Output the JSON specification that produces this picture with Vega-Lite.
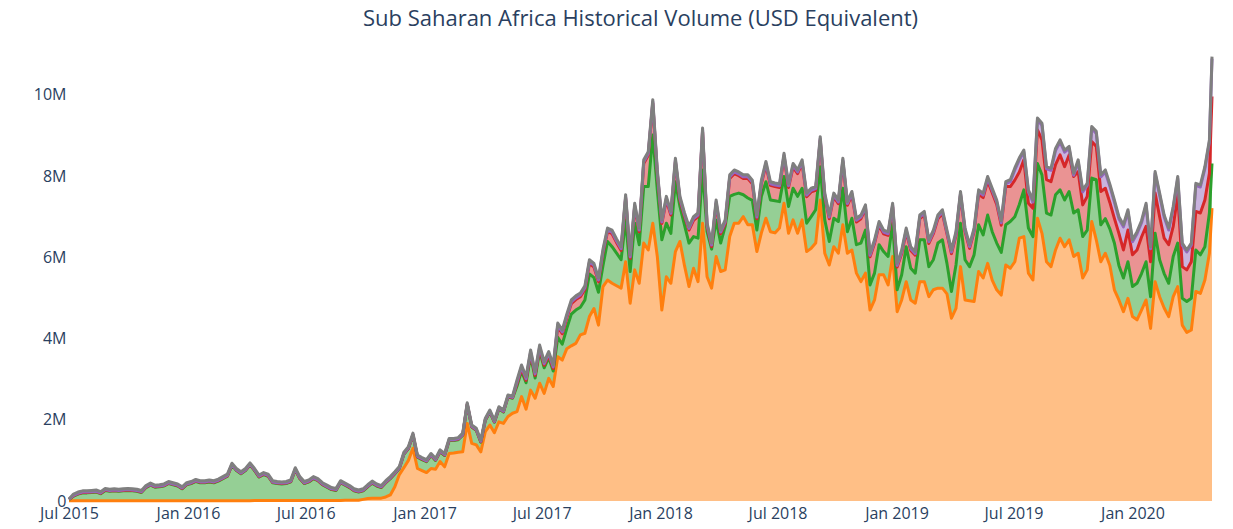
{
  "$schema": "https://vega.github.io/schema/vega-lite/v6.json",
  "width": 1143,
  "height": 446,
  "autosize": {"type": "none"},
  "padding": {"left": 69, "top": 55, "right": 21, "bottom": 28},
  "background": "white",
  "config": {"view": {"stroke": null}},
  "title": {"text": "Sub Saharan Africa Historical Volume (USD Equivalent)", "font": "Open Sans", "fontSize": 22, "fontWeight": "normal", "color": "#2a3f5f", "anchor": "middle", "offset": 24},
  "data": {"values": [
{"date":"2015-07-01","s1":0.005,"s2":0.03,"s3":0.005,"s4":0.005,"s5":0.005},
{"date":"2015-07-08","s1":0.005,"s2":0.115,"s3":0.01,"s4":0.01,"s5":0.03},
{"date":"2015-07-15","s1":0.005,"s2":0.165,"s3":0.01,"s4":0.01,"s5":0.03},
{"date":"2015-07-22","s1":0.005,"s2":0.195,"s3":0.01,"s4":0.01,"s5":0.03},
{"date":"2015-07-29","s1":0.005,"s2":0.195,"s3":0.01,"s4":0.01,"s5":0.03},
{"date":"2015-08-05","s1":0.005,"s2":0.205,"s3":0.01,"s4":0.01,"s5":0.03},
{"date":"2015-08-12","s1":0.005,"s2":0.215,"s3":0.01,"s4":0.01,"s5":0.03},
{"date":"2015-08-19","s1":0.005,"s2":0.175,"s3":0.01,"s4":0.01,"s5":0.03},
{"date":"2015-08-26","s1":0.005,"s2":0.255,"s3":0.01,"s4":0.01,"s5":0.03},
{"date":"2015-09-02","s1":0.005,"s2":0.235,"s3":0.01,"s4":0.01,"s5":0.03},
{"date":"2015-09-09","s1":0.005,"s2":0.245,"s3":0.01,"s4":0.01,"s5":0.03},
{"date":"2015-09-16","s1":0.005,"s2":0.235,"s3":0.01,"s4":0.01,"s5":0.03},
{"date":"2015-09-23","s1":0.005,"s2":0.245,"s3":0.01,"s4":0.01,"s5":0.03},
{"date":"2015-09-30","s1":0.005,"s2":0.255,"s3":0.01,"s4":0.01,"s5":0.03},
{"date":"2015-10-07","s1":0.005,"s2":0.245,"s3":0.01,"s4":0.01,"s5":0.03},
{"date":"2015-10-14","s1":0.005,"s2":0.235,"s3":0.01,"s4":0.01,"s5":0.03},
{"date":"2015-10-21","s1":0.005,"s2":0.205,"s3":0.01,"s4":0.01,"s5":0.03},
{"date":"2015-10-28","s1":0.005,"s2":0.325,"s3":0.01,"s4":0.01,"s5":0.03},
{"date":"2015-11-04","s1":0.005,"s2":0.385,"s3":0.01,"s4":0.01,"s5":0.03},
{"date":"2015-11-11","s1":0.005,"s2":0.335,"s3":0.01,"s4":0.01,"s5":0.03},
{"date":"2015-11-18","s1":0.005,"s2":0.345,"s3":0.01,"s4":0.01,"s5":0.03},
{"date":"2015-11-25","s1":0.005,"s2":0.365,"s3":0.01,"s4":0.01,"s5":0.03},
{"date":"2015-12-02","s1":0.005,"s2":0.425,"s3":0.01,"s4":0.01,"s5":0.03},
{"date":"2015-12-09","s1":0.005,"s2":0.395,"s3":0.01,"s4":0.01,"s5":0.03},
{"date":"2015-12-16","s1":0.005,"s2":0.365,"s3":0.01,"s4":0.01,"s5":0.03},
{"date":"2015-12-23","s1":0.005,"s2":0.295,"s3":0.01,"s4":0.01,"s5":0.03},
{"date":"2015-12-30","s1":0.005,"s2":0.395,"s3":0.01,"s4":0.01,"s5":0.03},
{"date":"2016-01-06","s1":0.005,"s2":0.425,"s3":0.01,"s4":0.01,"s5":0.03},
{"date":"2016-01-13","s1":0.005,"s2":0.475,"s3":0.01,"s4":0.01,"s5":0.03},
{"date":"2016-01-20","s1":0.005,"s2":0.445,"s3":0.01,"s4":0.01,"s5":0.03},
{"date":"2016-01-27","s1":0.005,"s2":0.445,"s3":0.01,"s4":0.01,"s5":0.03},
{"date":"2016-02-03","s1":0.005,"s2":0.465,"s3":0.01,"s4":0.01,"s5":0.03},
{"date":"2016-02-10","s1":0.005,"s2":0.445,"s3":0.01,"s4":0.01,"s5":0.03},
{"date":"2016-02-17","s1":0.005,"s2":0.485,"s3":0.01,"s4":0.01,"s5":0.03},
{"date":"2016-02-24","s1":0.005,"s2":0.545,"s3":0.01,"s4":0.01,"s5":0.03},
{"date":"2016-03-02","s1":0.005,"s2":0.605,"s3":0.01,"s4":0.01,"s5":0.03},
{"date":"2016-03-09","s1":0.005,"s2":0.875,"s3":0.01,"s4":0.01,"s5":0.03},
{"date":"2016-03-16","s1":0.005,"s2":0.745,"s3":0.01,"s4":0.01,"s5":0.03},
{"date":"2016-03-23","s1":0.005,"s2":0.665,"s3":0.01,"s4":0.01,"s5":0.03},
{"date":"2016-03-30","s1":0.005,"s2":0.745,"s3":0.01,"s4":0.01,"s5":0.03},
{"date":"2016-04-06","s1":0.005,"s2":0.885,"s3":0.01,"s4":0.01,"s5":0.03},
{"date":"2016-04-13","s1":0.01,"s2":0.74,"s3":0.01,"s4":0.01,"s5":0.03},
{"date":"2016-04-20","s1":0.01,"s2":0.58,"s3":0.01,"s4":0.01,"s5":0.03},
{"date":"2016-04-27","s1":0.01,"s2":0.64,"s3":0.01,"s4":0.01,"s5":0.03},
{"date":"2016-05-04","s1":0.01,"s2":0.60,"s3":0.01,"s4":0.01,"s5":0.03},
{"date":"2016-05-11","s1":0.01,"s2":0.44,"s3":0.01,"s4":0.01,"s5":0.03},
{"date":"2016-05-18","s1":0.01,"s2":0.42,"s3":0.01,"s4":0.01,"s5":0.03},
{"date":"2016-05-25","s1":0.01,"s2":0.41,"s3":0.01,"s4":0.01,"s5":0.03},
{"date":"2016-06-01","s1":0.01,"s2":0.42,"s3":0.01,"s4":0.01,"s5":0.03},
{"date":"2016-06-08","s1":0.01,"s2":0.46,"s3":0.01,"s4":0.01,"s5":0.03},
{"date":"2016-06-15","s1":0.01,"s2":0.76,"s3":0.01,"s4":0.01,"s5":0.03},
{"date":"2016-06-22","s1":0.01,"s2":0.54,"s3":0.01,"s4":0.01,"s5":0.03},
{"date":"2016-06-29","s1":0.01,"s2":0.42,"s3":0.01,"s4":0.01,"s5":0.03},
{"date":"2016-07-06","s1":0.01,"s2":0.46,"s3":0.01,"s4":0.01,"s5":0.03},
{"date":"2016-07-13","s1":0.01,"s2":0.54,"s3":0.01,"s4":0.01,"s5":0.03},
{"date":"2016-07-20","s1":0.01,"s2":0.49,"s3":0.01,"s4":0.01,"s5":0.03},
{"date":"2016-07-27","s1":0.01,"s2":0.39,"s3":0.01,"s4":0.01,"s5":0.03},
{"date":"2016-08-03","s1":0.01,"s2":0.33,"s3":0.01,"s4":0.01,"s5":0.03},
{"date":"2016-08-10","s1":0.01,"s2":0.27,"s3":0.01,"s4":0.01,"s5":0.03},
{"date":"2016-08-17","s1":0.01,"s2":0.25,"s3":0.01,"s4":0.01,"s5":0.03},
{"date":"2016-08-24","s1":0.01,"s2":0.44,"s3":0.01,"s4":0.01,"s5":0.03},
{"date":"2016-08-31","s1":0.02,"s2":0.37,"s3":0.01,"s4":0.01,"s5":0.03},
{"date":"2016-09-07","s1":0.02,"s2":0.31,"s3":0.01,"s4":0.01,"s5":0.03},
{"date":"2016-09-14","s1":0.02,"s2":0.23,"s3":0.01,"s4":0.01,"s5":0.03},
{"date":"2016-09-21","s1":0.02,"s2":0.20,"s3":0.01,"s4":0.01,"s5":0.03},
{"date":"2016-09-28","s1":0.04,"s2":0.21,"s3":0.01,"s4":0.01,"s5":0.03},
{"date":"2016-10-05","s1":0.06,"s2":0.29,"s3":0.01,"s4":0.01,"s5":0.03},
{"date":"2016-10-12","s1":0.07,"s2":0.37,"s3":0.01,"s4":0.01,"s5":0.03},
{"date":"2016-10-19","s1":0.07,"s2":0.30,"s3":0.01,"s4":0.01,"s5":0.03},
{"date":"2016-10-26","s1":0.07,"s2":0.26,"s3":0.01,"s4":0.01,"s5":0.03},
{"date":"2016-11-02","s1":0.10,"s2":0.35,"s3":0.01,"s4":0.01,"s5":0.03},
{"date":"2016-11-09","s1":0.15,"s2":0.40,"s3":0.01,"s4":0.01,"s5":0.03},
{"date":"2016-11-16","s1":0.35,"s2":0.32,"s3":0.01,"s4":0.01,"s5":0.03},
{"date":"2016-11-23","s1":0.65,"s2":0.15,"s3":0.01,"s4":0.01,"s5":0.03},
{"date":"2016-11-30","s1":0.82,"s2":0.33,"s3":0.01,"s4":0.01,"s5":0.03},
{"date":"2016-12-07","s1":1.00,"s2":0.29,"s3":0.01,"s4":0.01,"s5":0.03},
{"date":"2016-12-14","s1":1.30,"s2":0.32,"s3":0.01,"s4":0.01,"s5":0.03},
{"date":"2016-12-21","s1":0.80,"s2":0.28,"s3":0.01,"s4":0.01,"s5":0.03},
{"date":"2016-12-28","s1":0.75,"s2":0.27,"s3":0.01,"s4":0.01,"s5":0.03},
{"date":"2017-01-04","s1":0.70,"s2":0.27,"s3":0.01,"s4":0.01,"s5":0.03},
{"date":"2017-01-11","s1":0.80,"s2":0.32,"s3":0.01,"s4":0.01,"s5":0.03},
{"date":"2017-01-18","s1":0.78,"s2":0.22,"s3":0.01,"s4":0.01,"s5":0.03},
{"date":"2017-01-25","s1":0.97,"s2":0.24,"s3":0.01,"s4":0.01,"s5":0.03},
{"date":"2017-02-01","s1":0.84,"s2":0.28,"s3":0.01,"s4":0.01,"s5":0.03},
{"date":"2017-02-08","s1":1.17,"s2":0.32,"s3":0.01,"s4":0.01,"s5":0.03},
{"date":"2017-02-15","s1":1.18,"s2":0.31,"s3":0.01,"s4":0.01,"s5":0.03},
{"date":"2017-02-22","s1":1.20,"s2":0.31,"s3":0.01,"s4":0.01,"s5":0.03},
{"date":"2017-03-01","s1":1.21,"s2":0.41,"s3":0.01,"s4":0.01,"s5":0.03},
{"date":"2017-03-08","s1":1.91,"s2":0.46,"s3":0.01,"s4":0.01,"s5":0.03},
{"date":"2017-03-15","s1":1.42,"s2":0.40,"s3":0.01,"s4":0.01,"s5":0.03},
{"date":"2017-03-22","s1":1.38,"s2":0.36,"s3":0.01,"s4":0.01,"s5":0.03},
{"date":"2017-03-29","s1":1.21,"s2":0.24,"s3":0.01,"s4":0.01,"s5":0.03},
{"date":"2017-04-05","s1":1.71,"s2":0.28,"s3":0.01,"s4":0.01,"s5":0.03},
{"date":"2017-04-12","s1":1.87,"s2":0.32,"s3":0.01,"s4":0.01,"s5":0.03},
{"date":"2017-04-19","s1":1.68,"s2":0.26,"s3":0.01,"s4":0.01,"s5":0.03},
{"date":"2017-04-26","s1":1.95,"s2":0.32,"s3":0.01,"s4":0.01,"s5":0.03},
{"date":"2017-05-03","s1":1.91,"s2":0.28,"s3":0.01,"s4":0.01,"s5":0.03},
{"date":"2017-05-10","s1":2.08,"s2":0.48,"s3":0.01,"s4":0.01,"s5":0.03},
{"date":"2017-05-17","s1":2.16,"s2":0.37,"s3":0.01,"s4":0.01,"s5":0.03},
{"date":"2017-05-24","s1":2.20,"s2":0.63,"s3":0.06,"s4":0.04,"s5":0.05},
{"date":"2017-05-31","s1":2.57,"s2":0.63,"s3":0.06,"s4":0.04,"s5":0.05},
{"date":"2017-06-07","s1":2.26,"s2":0.65,"s3":0.06,"s4":0.04,"s5":0.05},
{"date":"2017-06-14","s1":2.73,"s2":0.84,"s3":0.06,"s4":0.04,"s5":0.05},
{"date":"2017-06-21","s1":2.53,"s2":0.50,"s3":0.06,"s4":0.04,"s5":0.05},
{"date":"2017-06-28","s1":2.90,"s2":0.79,"s3":0.06,"s4":0.04,"s5":0.05},
{"date":"2017-07-05","s1":2.65,"s2":0.63,"s3":0.06,"s4":0.04,"s5":0.05},
{"date":"2017-07-12","s1":3.02,"s2":0.51,"s3":0.06,"s4":0.04,"s5":0.05},
{"date":"2017-07-19","s1":2.82,"s2":0.38,"s3":0.06,"s4":0.04,"s5":0.05},
{"date":"2017-07-26","s1":3.55,"s2":0.48,"s3":0.26,"s4":0.04,"s5":0.05},
{"date":"2017-08-02","s1":3.47,"s2":0.39,"s3":0.26,"s4":0.04,"s5":0.05},
{"date":"2017-08-09","s1":3.75,"s2":0.50,"s3":0.26,"s4":0.04,"s5":0.05},
{"date":"2017-08-16","s1":3.82,"s2":0.78,"s3":0.26,"s4":0.04,"s5":0.05},
{"date":"2017-08-23","s1":3.88,"s2":0.82,"s3":0.26,"s4":0.04,"s5":0.05},
{"date":"2017-08-30","s1":4.09,"s2":0.68,"s3":0.26,"s4":0.04,"s5":0.05},
{"date":"2017-09-06","s1":4.13,"s2":0.82,"s3":0.26,"s4":0.04,"s5":0.05},
{"date":"2017-09-13","s1":4.54,"s2":1.05,"s3":0.26,"s4":0.04,"s5":0.05},
{"date":"2017-09-20","s1":4.74,"s2":0.76,"s3":0.26,"s4":0.04,"s5":0.05},
{"date":"2017-09-27","s1":4.33,"s2":0.81,"s3":0.26,"s4":0.04,"s5":0.05},
{"date":"2017-10-04","s1":5.28,"s2":0.52,"s3":0.31,"s4":0.04,"s5":0.05},
{"date":"2017-10-11","s1":5.44,"s2":0.95,"s3":0.24,"s4":0.04,"s5":0.05},
{"date":"2017-10-18","s1":5.36,"s2":0.90,"s3":0.32,"s4":0.04,"s5":0.05},
{"date":"2017-10-25","s1":5.30,"s2":0.80,"s3":0.26,"s4":0.04,"s5":0.05},
{"date":"2017-11-01","s1":5.24,"s2":0.70,"s3":0.23,"s4":0.04,"s5":0.05},
{"date":"2017-11-08","s1":5.89,"s2":1.03,"s3":0.53,"s4":0.04,"s5":0.05},
{"date":"2017-11-15","s1":4.87,"s2":0.78,"s3":0.32,"s4":0.04,"s5":0.05},
{"date":"2017-11-22","s1":5.69,"s2":1.15,"s3":0.40,"s4":0.04,"s5":0.05},
{"date":"2017-11-29","s1":5.36,"s2":0.95,"s3":0.32,"s4":0.04,"s5":0.05},
{"date":"2017-12-06","s1":6.35,"s2":1.39,"s3":0.57,"s4":0.04,"s5":0.05},
{"date":"2017-12-13","s1":6.18,"s2":1.56,"s3":0.77,"s4":0.04,"s5":0.05},
{"date":"2017-12-20","s1":6.84,"s2":2.17,"s3":0.78,"s4":0.04,"s5":0.05},
{"date":"2017-12-27","s1":6.02,"s2":1.64,"s3":0.40,"s4":0.04,"s5":0.05},
{"date":"2018-01-03","s1":4.70,"s2":1.73,"s3":0.40,"s4":0.04,"s5":0.05},
{"date":"2018-01-10","s1":5.52,"s2":1.32,"s3":0.57,"s4":0.04,"s5":0.05},
{"date":"2018-01-17","s1":5.36,"s2":1.23,"s3":0.45,"s4":0.04,"s5":0.05},
{"date":"2018-01-24","s1":6.14,"s2":1.72,"s3":0.49,"s4":0.04,"s5":0.05},
{"date":"2018-01-31","s1":6.39,"s2":0.86,"s3":0.16,"s4":0.04,"s5":0.05},
{"date":"2018-02-07","s1":5.80,"s2":1.00,"s3":0.21,"s4":0.04,"s5":0.05},
{"date":"2018-02-14","s1":5.28,"s2":1.07,"s3":0.32,"s4":0.04,"s5":0.05},
{"date":"2018-02-21","s1":5.73,"s2":0.78,"s3":0.40,"s4":0.04,"s5":0.05},
{"date":"2018-02-28","s1":5.40,"s2":1.07,"s3":0.53,"s4":0.04,"s5":0.05},
{"date":"2018-03-07","s1":6.84,"s2":1.31,"s3":0.94,"s4":0.04,"s5":0.05},
{"date":"2018-03-14","s1":5.52,"s2":1.11,"s3":0.12,"s4":0.04,"s5":0.05},
{"date":"2018-03-21","s1":5.24,"s2":0.96,"s3":0.06,"s4":0.04,"s5":0.05},
{"date":"2018-03-28","s1":6.02,"s2":0.90,"s3":0.40,"s4":0.04,"s5":0.05},
{"date":"2018-04-04","s1":5.65,"s2":0.70,"s3":0.23,"s4":0.04,"s5":0.05},
{"date":"2018-04-11","s1":5.69,"s2":1.07,"s3":0.07,"s4":0.04,"s5":0.05},
{"date":"2018-04-18","s1":6.51,"s2":0.99,"s3":0.44,"s4":0.04,"s5":0.05},
{"date":"2018-04-25","s1":6.84,"s2":0.71,"s3":0.51,"s4":0.04,"s5":0.05},
{"date":"2018-05-02","s1":6.84,"s2":0.74,"s3":0.43,"s4":0.04,"s5":0.05},
{"date":"2018-05-09","s1":7.00,"s2":0.54,"s3":0.40,"s4":0.04,"s5":0.05},
{"date":"2018-05-16","s1":6.80,"s2":0.66,"s3":0.48,"s4":0.04,"s5":0.05},
{"date":"2018-05-23","s1":6.80,"s2":0.60,"s3":0.41,"s4":0.04,"s5":0.05},
{"date":"2018-05-30","s1":6.14,"s2":0.53,"s3":0.28,"s4":0.04,"s5":0.05},
{"date":"2018-06-06","s1":6.60,"s2":0.90,"s3":0.31,"s4":0.04,"s5":0.05},
{"date":"2018-06-13","s1":6.96,"s2":0.90,"s3":0.41,"s4":0.04,"s5":0.05},
{"date":"2018-06-20","s1":6.63,"s2":0.78,"s3":0.36,"s4":0.04,"s5":0.05},
{"date":"2018-06-27","s1":6.60,"s2":0.79,"s3":0.35,"s4":0.04,"s5":0.05},
{"date":"2018-07-04","s1":6.72,"s2":0.65,"s3":0.35,"s4":0.04,"s5":0.05},
{"date":"2018-07-11","s1":7.33,"s2":0.66,"s3":0.48,"s4":0.04,"s5":0.05},
{"date":"2018-07-18","s1":6.59,"s2":0.66,"s3":0.47,"s4":0.04,"s5":0.05},
{"date":"2018-07-25","s1":6.92,"s2":0.78,"s3":0.52,"s4":0.04,"s5":0.05},
{"date":"2018-08-01","s1":6.59,"s2":0.91,"s3":0.56,"s4":0.04,"s5":0.05},
{"date":"2018-08-08","s1":6.92,"s2":0.78,"s3":0.61,"s4":0.04,"s5":0.05},
{"date":"2018-08-15","s1":6.14,"s2":0.70,"s3":0.65,"s4":0.04,"s5":0.05},
{"date":"2018-08-22","s1":6.22,"s2":0.78,"s3":0.61,"s4":0.04,"s5":0.05},
{"date":"2018-08-29","s1":6.35,"s2":0.82,"s3":0.48,"s4":0.04,"s5":0.05},
{"date":"2018-09-05","s1":7.41,"s2":0.82,"s3":0.65,"s4":0.04,"s5":0.05},
{"date":"2018-09-12","s1":6.10,"s2":0.82,"s3":0.57,"s4":0.04,"s5":0.05},
{"date":"2018-09-19","s1":5.81,"s2":0.58,"s3":0.56,"s4":0.04,"s5":0.05},
{"date":"2018-09-26","s1":6.26,"s2":0.70,"s3":0.53,"s4":0.04,"s5":0.05},
{"date":"2018-10-03","s1":6.10,"s2":0.78,"s3":0.44,"s4":0.04,"s5":0.05},
{"date":"2018-10-10","s1":6.80,"s2":0.90,"s3":0.65,"s4":0.04,"s5":0.05},
{"date":"2018-10-17","s1":6.10,"s2":0.53,"s3":0.65,"s4":0.04,"s5":0.05},
{"date":"2018-10-24","s1":6.18,"s2":0.78,"s3":0.57,"s4":0.04,"s5":0.05},
{"date":"2018-10-31","s1":5.61,"s2":0.70,"s3":0.56,"s4":0.04,"s5":0.05},
{"date":"2018-11-07","s1":5.40,"s2":0.95,"s3":0.60,"s4":0.04,"s5":0.05},
{"date":"2018-11-14","s1":5.61,"s2":1.06,"s3":0.53,"s4":0.04,"s5":0.05},
{"date":"2018-11-21","s1":4.70,"s2":0.62,"s3":0.69,"s4":0.04,"s5":0.05},
{"date":"2018-11-28","s1":4.95,"s2":0.66,"s3":0.73,"s4":0.04,"s5":0.05},
{"date":"2018-12-05","s1":5.57,"s2":0.74,"s3":0.48,"s4":0.04,"s5":0.05},
{"date":"2018-12-12","s1":5.57,"s2":0.57,"s3":0.44,"s4":0.04,"s5":0.05},
{"date":"2018-12-19","s1":5.32,"s2":0.70,"s3":0.52,"s4":0.04,"s5":0.05},
{"date":"2018-12-26","s1":6.02,"s2":0.82,"s3":0.40,"s4":0.04,"s5":0.05},
{"date":"2019-01-02","s1":4.66,"s2":0.54,"s3":0.56,"s4":0.04,"s5":0.05},
{"date":"2019-01-09","s1":4.95,"s2":0.62,"s3":0.52,"s4":0.04,"s5":0.05},
{"date":"2019-01-16","s1":5.40,"s2":0.86,"s3":0.37,"s4":0.04,"s5":0.05},
{"date":"2019-01-23","s1":4.95,"s2":0.78,"s3":0.44,"s4":0.04,"s5":0.05},
{"date":"2019-01-30","s1":4.87,"s2":0.74,"s3":0.44,"s4":0.04,"s5":0.05},
{"date":"2019-02-06","s1":5.40,"s2":1.03,"s3":0.52,"s4":0.04,"s5":0.05},
{"date":"2019-02-13","s1":5.40,"s2":1.03,"s3":0.61,"s4":0.04,"s5":0.05},
{"date":"2019-02-20","s1":5.03,"s2":0.74,"s3":0.57,"s4":0.04,"s5":0.05},
{"date":"2019-02-27","s1":5.20,"s2":0.74,"s3":0.64,"s4":0.04,"s5":0.05},
{"date":"2019-03-06","s1":5.24,"s2":1.11,"s3":0.60,"s4":0.04,"s5":0.05},
{"date":"2019-03-13","s1":5.24,"s2":1.19,"s3":0.65,"s4":0.04,"s5":0.05},
{"date":"2019-03-20","s1":5.10,"s2":0.75,"s3":0.73,"s4":0.04,"s5":0.05},
{"date":"2019-03-27","s1":4.50,"s2":0.66,"s3":0.93,"s4":0.04,"s5":0.05},
{"date":"2019-04-03","s1":4.74,"s2":1.07,"s3":0.73,"s4":0.04,"s5":0.05},
{"date":"2019-04-10","s1":5.77,"s2":1.07,"s3":0.69,"s4":0.04,"s5":0.05},
{"date":"2019-04-17","s1":4.95,"s2":0.99,"s3":0.69,"s4":0.04,"s5":0.05},
{"date":"2019-04-24","s1":4.93,"s2":0.84,"s3":0.45,"s4":0.04,"s5":0.05},
{"date":"2019-05-01","s1":4.91,"s2":1.15,"s3":0.57,"s4":0.04,"s5":0.05},
{"date":"2019-05-08","s1":5.65,"s2":1.15,"s3":0.75,"s4":0.06,"s5":0.05},
{"date":"2019-05-15","s1":5.49,"s2":1.06,"s3":0.92,"s4":0.06,"s5":0.05},
{"date":"2019-05-22","s1":5.85,"s2":1.19,"s3":0.84,"s4":0.06,"s5":0.05},
{"date":"2019-05-29","s1":5.44,"s2":1.19,"s3":0.96,"s4":0.06,"s5":0.05},
{"date":"2019-06-05","s1":5.20,"s2":1.15,"s3":0.95,"s4":0.06,"s5":0.05},
{"date":"2019-06-12","s1":5.07,"s2":1.05,"s3":0.67,"s4":0.06,"s5":0.05},
{"date":"2019-06-19","s1":5.81,"s2":0.99,"s3":0.94,"s4":0.07,"s5":0.05},
{"date":"2019-06-26","s1":5.73,"s2":1.15,"s3":0.86,"s4":0.12,"s5":0.05},
{"date":"2019-07-03","s1":5.89,"s2":1.11,"s3":0.90,"s4":0.25,"s5":0.05},
{"date":"2019-07-10","s1":6.47,"s2":0.83,"s3":0.80,"s4":0.30,"s5":0.05},
{"date":"2019-07-17","s1":6.51,"s2":1.15,"s3":0.74,"s4":0.19,"s5":0.05},
{"date":"2019-07-24","s1":5.61,"s2":1.11,"s3":0.61,"s4":0.28,"s5":0.05},
{"date":"2019-07-31","s1":5.44,"s2":1.07,"s3":0.70,"s4":0.15,"s5":0.05},
{"date":"2019-08-07","s1":6.96,"s2":1.35,"s3":0.83,"s4":0.24,"s5":0.05},
{"date":"2019-08-14","s1":6.59,"s2":1.44,"s3":0.86,"s4":0.36,"s5":0.05},
{"date":"2019-08-21","s1":5.89,"s2":1.20,"s3":0.82,"s4":0.27,"s5":0.05},
{"date":"2019-08-28","s1":5.77,"s2":1.27,"s3":0.82,"s4":0.28,"s5":0.05},
{"date":"2019-09-04","s1":6.18,"s2":1.36,"s3":0.74,"s4":0.35,"s5":0.05},
{"date":"2019-09-11","s1":6.47,"s2":1.19,"s3":0.86,"s4":0.32,"s5":0.05},
{"date":"2019-09-18","s1":6.26,"s2":1.15,"s3":0.82,"s4":0.36,"s5":0.05},
{"date":"2019-09-25","s1":6.43,"s2":1.19,"s3":0.90,"s4":0.16,"s5":0.05},
{"date":"2019-10-02","s1":6.02,"s2":1.07,"s3":0.90,"s4":0.03,"s5":0.05},
{"date":"2019-10-09","s1":6.10,"s2":1.07,"s3":0.94,"s4":0.24,"s5":0.05},
{"date":"2019-10-16","s1":5.49,"s2":1.02,"s3":0.78,"s4":0.32,"s5":0.05},
{"date":"2019-10-23","s1":5.69,"s2":0.98,"s3":0.83,"s4":0.27,"s5":0.05},
{"date":"2019-10-30","s1":6.88,"s2":1.07,"s3":0.90,"s4":0.32,"s5":0.05},
{"date":"2019-11-06","s1":6.43,"s2":1.48,"s3":0.82,"s4":0.32,"s5":0.05},
{"date":"2019-11-13","s1":5.89,"s2":0.91,"s3":0.82,"s4":0.36,"s5":0.05},
{"date":"2019-11-20","s1":6.10,"s2":0.85,"s3":0.75,"s4":0.40,"s5":0.05},
{"date":"2019-11-27","s1":5.80,"s2":0.90,"s3":0.65,"s4":0.40,"s5":0.05},
{"date":"2019-12-04","s1":5.20,"s2":1.15,"s3":0.61,"s4":0.40,"s5":0.05},
{"date":"2019-12-11","s1":4.95,"s2":0.85,"s3":0.79,"s4":0.36,"s5":0.05},
{"date":"2019-12-18","s1":4.66,"s2":0.83,"s3":0.69,"s4":0.57,"s5":0.05},
{"date":"2019-12-25","s1":4.99,"s2":0.90,"s3":0.78,"s4":0.45,"s5":0.05},
{"date":"2020-01-01","s1":4.54,"s2":0.74,"s3":0.78,"s4":0.32,"s5":0.05},
{"date":"2020-01-08","s1":4.46,"s2":0.90,"s3":0.82,"s4":0.40,"s5":0.05},
{"date":"2020-01-15","s1":4.70,"s2":0.90,"s3":0.90,"s4":0.35,"s5":0.05},
{"date":"2020-01-22","s1":4.95,"s2":0.94,"s3":0.87,"s4":0.52,"s5":0.05},
{"date":"2020-01-29","s1":4.25,"s2":0.78,"s3":0.86,"s4":0.32,"s5":0.05},
{"date":"2020-02-05","s1":5.40,"s2":1.19,"s3":0.99,"s4":0.48,"s5":0.05},
{"date":"2020-02-12","s1":5.03,"s2":0.91,"s3":1.06,"s4":0.53,"s5":0.05},
{"date":"2020-02-19","s1":4.75,"s2":0.85,"s3":0.87,"s4":0.52,"s5":0.05},
{"date":"2020-02-26","s1":4.54,"s2":0.82,"s3":0.95,"s4":0.36,"s5":0.05},
{"date":"2020-03-04","s1":5.03,"s2":0.99,"s3":0.74,"s4":0.44,"s5":0.05},
{"date":"2020-03-11","s1":5.28,"s2":1.07,"s3":1.19,"s4":0.40,"s5":0.05},
{"date":"2020-03-18","s1":4.33,"s2":0.66,"s3":0.78,"s4":0.53,"s5":0.05},
{"date":"2020-03-25","s1":4.15,"s2":0.76,"s3":0.78,"s4":0.44,"s5":0.05},
{"date":"2020-04-01","s1":4.21,"s2":0.78,"s3":0.90,"s4":0.41,"s5":0.05},
{"date":"2020-04-08","s1":5.16,"s2":1.02,"s3":0.95,"s4":0.64,"s5":0.05},
{"date":"2020-04-15","s1":5.11,"s2":0.95,"s3":1.03,"s4":0.64,"s5":0.05},
{"date":"2020-04-22","s1":5.44,"s2":0.82,"s3":1.15,"s4":0.77,"s5":0.05},
{"date":"2020-04-29","s1":6.10,"s2":0.99,"s3":0.98,"s4":0.77,"s5":0.05},
{"date":"2020-05-03","s1":7.21,"s2":1.10,"s3":1.65,"s4":0.93,"s5":0.05}
  ]},
  "transform": [
    {"fold": ["s1", "s2", "s3", "s4", "s5"], "as": ["series", "volume"]},
    {"stack": "volume", "groupby": ["date"], "sort": [{"field": "series", "order": "ascending"}], "as": ["y0", "y1"]}
  ],
  "encoding": {
    "x": {
      "field": "date", "type": "temporal",
      "scale": {"domain": [{"year": 2015, "month": 7, "date": 1}, {"year": 2020, "month": 5, "date": 3}]},
      "axis": {"format": "%b %Y", "tickCount": {"interval": "month", "step": 6}, "grid": false, "domain": false, "ticks": false, "labelFont": "Open Sans", "labelFontSize": 16, "labelColor": "#2a3f5f", "labelPadding": 4, "labelFlush": false, "labelOverlap": false, "title": null}
    },
    "color": {
      "field": "series", "type": "nominal",
      "scale": {"domain": ["s1", "s2", "s3", "s4", "s5"], "range": ["#ff7f0e", "#2ca02c", "#d62728", "#9467bd", "#7f7f7f"]},
      "legend": null
    }
  },
  "layer": [
    {
      "mark": {"type": "area", "opacity": 0.5, "clip": true},
      "encoding": {
        "y": {"field": "y1", "type": "quantitative", "scale": {"domain": [0, 10.98], "nice": false},
          "axis": {"values": [0, 2, 4, 6, 8, 10], "labelExpr": "datum.value == 0 ? '0' : datum.value + 'M'", "grid": false, "domain": false, "ticks": false, "labelFont": "Open Sans", "labelFontSize": 16, "labelColor": "#2a3f5f", "labelPadding": 3, "title": null}},
        "y2": {"field": "y0"}
      }
    },
    {
      "mark": {"type": "line", "strokeJoin": "round", "clip": false},
      "encoding": {
        "y": {"field": "y1", "type": "quantitative"},
        "strokeWidth": {"field": "series", "type": "nominal", "scale": {"domain": ["s1", "s2", "s3", "s4", "s5"], "range": [3, 3, 2.5, 2, 4.5]}, "legend": null}
      }
    }
  ]
}
